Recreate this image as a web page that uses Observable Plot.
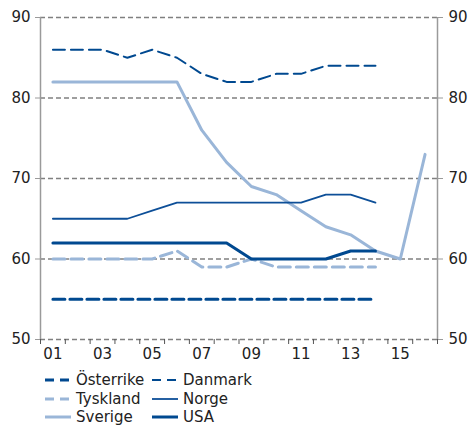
<!DOCTYPE html>
<html><head><meta charset="utf-8">
<script src="https://cdn.jsdelivr.net/npm/d3@7"></script>
<script src="https://cdn.jsdelivr.net/npm/@observablehq/plot@0.6"></script>
<style>
body{margin:0;background:#fff;font-family:"DejaVu Sans",Verdana,sans-serif;color:#222;}
#wrap{width:470px;}
#legend{position:relative;height:62px;}
.item{position:absolute;display:flex;align-items:center;font-size:15px;line-height:18px;height:18px;}
.item svg{margin-right:5px;}
</style></head><body><div id="wrap"><div id="chart"></div><div id="legend"></div></div>
<script>
const years = [1,2,3,4,5,6,7,8,9,10,11,12,13,14,15,16];
const yearTickValues = [1,3,5,7,9,11,13,15];
const yearTickLabels = ["01","03","05","07","09","11","13","15"];
const yTicks = [50,60,70,80,90];

const osterrike = [55,55,55,55,55,55,55,55,55,55,55,55,55,55];
const danmark   = [86,86,86,85,86,85,83,82,82,83,83,84,84,84];
const tyskland  = [60,60,60,60,60,61,59,59,60,59,59,59,59,59];
const norge     = [65,65,65,65,66,67,67,67,67,67,67,68,68,67];
const sverige   = [82,82,82,82,82,82,76,72,69,68,66,64,63,61,60,73];
const usa       = [62,62,62,62,62,62,62,62,60,60,60,60,61,61];

const names = ["Österrike","Danmark","Tyskland","Norge","Sverige","USA"];
const values = [osterrike, danmark, tyskland, norge, sverige, usa];

const dark = "#004990", light = "#9ab6d8", mid = "#0d4f98";
const styles = {
  "Österrike": {stroke: dark, strokeWidth: 3, strokeDasharray: "12,5"},
  "Danmark":   {stroke: dark, strokeWidth: 2, strokeDasharray: "12,6"},
  "Tyskland":  {stroke: light, strokeWidth: 3, strokeDasharray: "12,6"},
  "Norge":     {stroke: mid, strokeWidth: 1.8},
  "Sverige":   {stroke: light, strokeWidth: 3},
  "USA":       {stroke: dark, strokeWidth: 3}
};

const rows = [];
names.forEach((n, i) => values[i].forEach((v, j) => rows.push({series: n, year: years[j], value: v})));

const boundaries = d3.range(0.5, 17, 1);
const drawOrder = ["Österrike","Tyskland","Sverige","Norge","USA","Danmark"];

const chart = Plot.plot({
  width: 470, height: 365,
  marginLeft: 40, marginRight: 33, marginTop: 17, marginBottom: 26,
  style: {fontSize: "15px", fontFamily: "DejaVu Sans, Verdana, sans-serif", color: "#222", background: "#fff"},
  x: {domain: [0.5, 16.5]},
  y: {domain: [50, 90]},
  marks: [
    Plot.ruleY(yTicks, {stroke: "#808080", strokeWidth: 1.5, strokeDasharray: "5,3"}),
    Plot.ruleX([0.5, 16.5], {stroke: "#9a9a9a", strokeWidth: 1.5}),
    Plot.axisY({anchor: "left", ticks: yTicks, tickSize: 5, tickPadding: 5, stroke: "#9a9a9a", label: null}),
    Plot.axisY({anchor: "right", ticks: yTicks, tickSize: 5, tickPadding: 6, stroke: "#9a9a9a", label: null}),
    Plot.axisX({ticks: boundaries, tickSize: 5, tickFormat: () => "", stroke: "#555", label: null}),
    Plot.axisX({ticks: yearTickValues, tickSize: 0, tickPadding: 9, tickFormat: (d) => yearTickLabels[yearTickValues.indexOf(d)], label: null}),
    ...drawOrder.map(n => Plot.line(rows.filter(r => r.series === n), {x: "year", y: "value", ...styles[n]}))
  ]
});
document.getElementById("chart").appendChild(chart);

const legend = document.getElementById("legend");
const legendOrder = ["Österrike","Danmark","Tyskland","Norge","Sverige","USA"];
legendOrder.forEach((n, i) => {
  const col = i % 2, row = Math.floor(i / 2);
  const s = styles[n];
  const div = document.createElement("div");
  div.className = "item";
  div.style.left = (col === 0 ? 45 : 152) + "px";
  div.style.top = (6 + row * 18.5) + "px";
  div.innerHTML = `<svg width="26" height="10"><line x1="0" x2="26" y1="5" y2="5" stroke="${s.stroke}" stroke-width="${s.strokeWidth}" ${s.strokeDasharray ? `stroke-dasharray="9,6"` : ""}/></svg><span>${n}</span>`;
  legend.appendChild(div);
});
</script></body></html>
